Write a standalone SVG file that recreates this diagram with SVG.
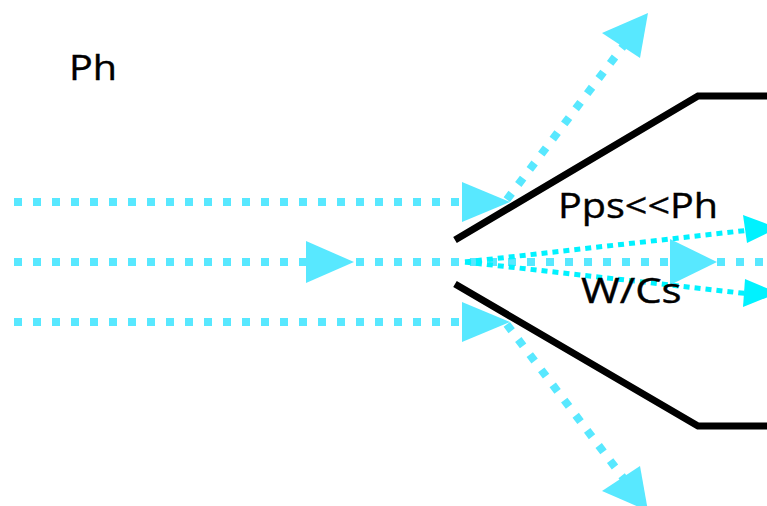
<svg xmlns="http://www.w3.org/2000/svg" width="767" height="506" viewBox="0 0 767 506">
<style>
.beam{fill:none;stroke:#58E8FF;stroke-width:8;stroke-dasharray:8 11}
.fine{fill:none;stroke:#00F2FF;stroke-width:5;stroke-dasharray:6 5}
.head{fill:#58E8FF}
.fhead{fill:#00F2FF}
.wall{fill:none;stroke:#000;stroke-width:7;stroke-linejoin:miter}
text{font-family:"Open Sans","Noto Sans",sans-serif;font-size:35px;fill:#000;stroke:#000;stroke-width:0.4}
</style>
<rect width="767" height="506" fill="#fff"/>
<g id="walls">
<polyline class="wall" points="455,240 698,96 767,96"/>
<polyline class="wall" points="455,284 698,426 767,426"/>
</g>
<g id="connectors">
<polyline class="beam" points="14,202 505,202 640,24"/>
<polyline class="beam" points="14,322 505,322 640,500"/>
<line class="beam" x1="14" y1="262" x2="767" y2="262"/>
<line class="fine" x1="465" y1="262" x2="750" y2="230"/>
<line class="fine" x1="465" y1="262" x2="750" y2="294"/>
<polygon class="head" points="462,182 510,202 462,222"/>
<polygon class="head" points="462,302 510,322 462,342"/>
<polygon class="head" points="306,241 354,262 306,283"/>
<polygon class="head" points="670,239 717,262 670,285"/>
<polygon class="head" points="602,33 648,13 640,58"/>
<polygon class="head" points="602,491 648,511 640,466"/>
<polygon class="fhead" points="743,215 778,228 747,243"/>
<polygon class="fhead" points="745,279 778,293 743,307"/>
</g>
<g id="labels">
<text transform="translate(69,80) scale(1.13,1)">Ph</text>
<text transform="translate(558,218) scale(1.13,1)">Pps&lt;&lt;Ph</text>
<text transform="translate(581,303) scale(1.2,1)">W/Cs</text>
</g>
</svg>
